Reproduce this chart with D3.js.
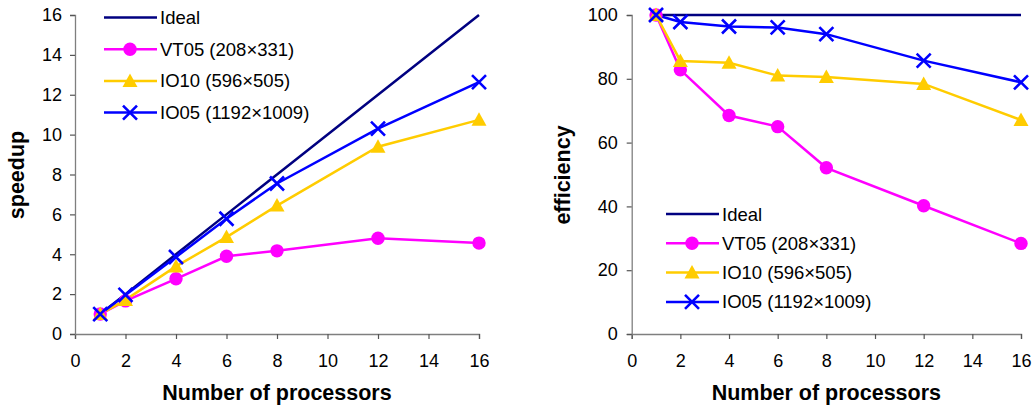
<!DOCTYPE html>
<html><head><meta charset="utf-8">
<script src="https://cdn.jsdelivr.net/npm/d3@7"></script>
<style>body{margin:0;background:#fff;font-family:"Liberation Sans",Arial,sans-serif;}</style>
</head><body><svg id="c" width="1036" height="411"></svg>
<script>
const procs = [1, 2, 4, 6, 8, 12, 16];
const seriesNames = ["Ideal", "VT05 (208×331)", "IO10 (596×505)", "IO05 (1192×1009)"];
const speedIdeal = [1, 2, 4, 6, 8, 12, 16];
const speedVT05 = [1, 1.66, 2.77, 3.9, 4.17, 4.8, 4.56];
const speedIO10 = [1, 1.71, 3.39, 4.86, 6.44, 9.39, 10.74];
const speedIO05 = [1, 1.96, 3.86, 5.78, 7.55, 10.3, 12.63];
const effIdeal = [100, 100, 100, 100, 100, 100, 100];
const effVT05 = [100, 82.8, 68.5, 65, 52.1, 40.2, 28.4];
const effIO10 = [100, 85.6, 85, 81, 80.6, 78.4, 67.1];
const effIO05 = [100, 97.8, 96.4, 96.1, 94, 85.7, 78.9];
const xTicks = [0, 2, 4, 6, 8, 10, 12, 14, 16];
const ySpeedTicks = [0, 2, 4, 6, 8, 10, 12, 14, 16];
const yEffTicks = [0, 20, 40, 60, 80, 100];

const colors = ["#000080", "#FF00FF", "#FFCC00", "#0000FF"];
const markers = ["none", "circle", "triangle", "x"];
const svg = d3.select("#c");

function drawMarker(g, type, x, y, color) {
  if (type === "circle") g.append("circle").attr("cx", x).attr("cy", y).attr("r", 6.7).attr("fill", color);
  else if (type === "triangle") {
    const s = 7.5;
    g.append("path").attr("d", `M${x},${y - s}L${x + s},${y + s * 0.8}L${x - s},${y + s * 0.8}Z`).attr("fill", color);
  } else if (type === "x") {
    const s = 7;
    g.append("path").attr("d", `M${x - s},${y - s}L${x + s},${y + s}M${x - s},${y + s}L${x + s},${y - s}`)
      .attr("stroke", color).attr("stroke-width", 2.6).attr("fill", "none");
  }
}

function chart(opts) {
  const x = d3.scaleLinear().domain([0, 16]).range([opts.x0, opts.x1]);
  const y = d3.scaleLinear().domain([0, opts.ymax]).range([334, 15]);
  const g = svg.append("g");
  const xa = g.append("g").attr("transform", "translate(0,334)")
    .call(d3.axisBottom(x).tickValues(xTicks).tickSize(5).tickPadding(15).tickFormat(d3.format("d")));
  const ya = g.append("g").attr("transform", `translate(${opts.x0},0)`)
    .call(d3.axisLeft(y).tickValues(opts.yTicks).tickSize(5).tickPadding(opts.yPad).tickFormat(d3.format("d")));
  [xa, ya].forEach(a => {
    a.select(".domain").attr("stroke", "#7f7f7f").attr("stroke-width", 1.3);
    a.selectAll(".tick line").attr("stroke", "#555").attr("stroke-width", 1.2);
    a.selectAll("text").attr("font-family", "Liberation Sans, Arial, sans-serif").attr("font-size", 18).attr("fill", "#000");
  });
  g.append("text").attr("x", (opts.x0 + opts.x1) / 2).attr("y", 400).attr("text-anchor", "middle")
    .attr("font-weight", "bold").attr("font-size", 21.5).text("Number of processors");
  g.append("text").attr("transform", `translate(${opts.ylabX},175) rotate(-90)`).attr("text-anchor", "middle")
    .attr("font-weight", "bold").attr("font-size", 21.5).text(opts.ylab);

  const line = d3.line().x((d, i) => x(procs[i])).y(d => y(d));
  opts.data.forEach((arr, k) => {
    g.append("path").datum(arr).attr("d", line).attr("fill", "none").attr("stroke", colors[k]).attr("stroke-width", 2.5);
  });
  opts.data.forEach((arr, k) => {
    if (k === 0) return;
    arr.forEach((v, i) => drawMarker(g, markers[k], x(procs[i]), y(v), colors[k]));
  });
  seriesNames.forEach((n, k) => {
    const yy = opts.legY + k * opts.legDy;
    g.append("line").attr("x1", opts.legX).attr("x2", opts.legX + 53).attr("y1", yy).attr("y2", yy)
      .attr("stroke", colors[k]).attr("stroke-width", 2.5);
    drawMarker(g, markers[k], opts.legX + 26, yy, colors[k]);
    g.append("text").attr("x", opts.legX + 56).attr("y", yy + 6.5).attr("font-size", 18.5).text(n);
  });
}

chart({x0: 75, x1: 479, ymax: 16, yTicks: ySpeedTicks, ylab: "speedup", ylabX: 24, yPad: 8,
  data: [speedIdeal, speedVT05, speedIO10, speedIO05], legX: 104, legY: 17.5, legDy: 31.7});
chart({x0: 631.7, x1: 1021, ymax: 100, yTicks: yEffTicks, ylab: "efficiency", ylabX: 570, yPad: 9,
  data: [effIdeal, effVT05, effIO10, effIO05], legX: 666, legY: 214, legDy: 29.3});
</script></body></html>
